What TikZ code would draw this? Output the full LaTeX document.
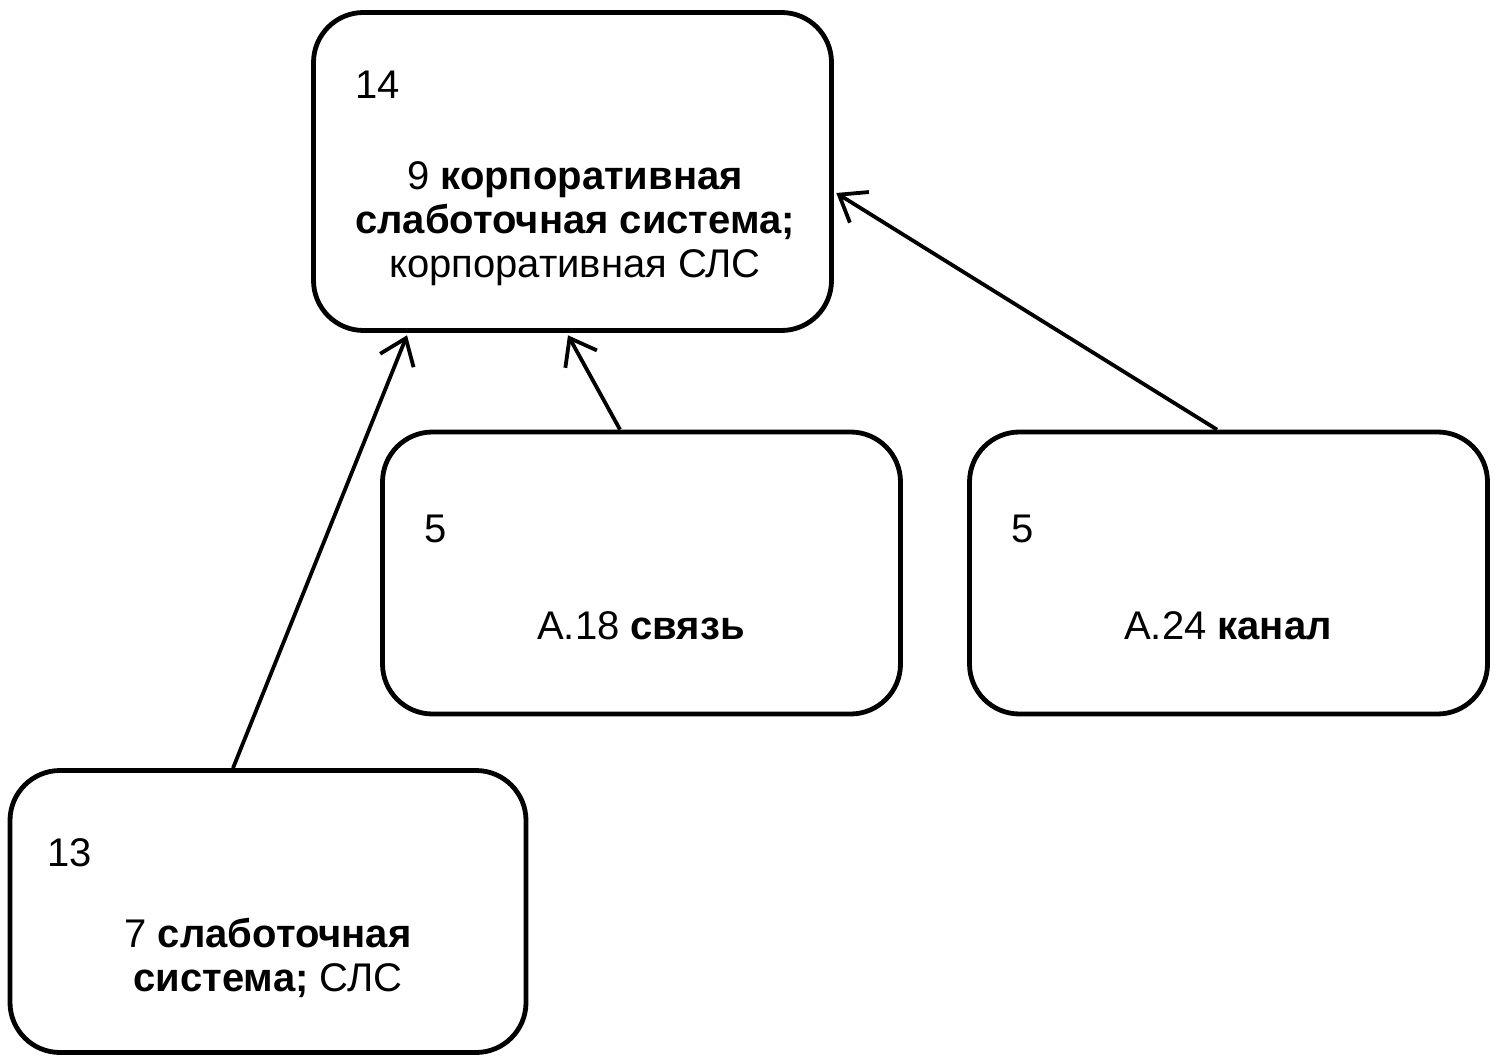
\documentclass[tikz,border=0pt]{standalone}
\usepackage{fontspec}
\setmainfont{Liberation Sans}
\usetikzlibrary{arrows.meta,calc}
\begin{document}
\begin{tikzpicture}[x=0.5pt,y=-0.5pt,
  box/.style={draw=black,line width=2.4pt,rounded corners=25pt,fill=white,inner sep=0pt},
  txt/.style={font=\fontsize{20pt}{22pt}\selectfont,inner sep=0pt,align=center},
  conn/.style={line width=1.9pt,-{Straight Barb[length=12pt,width=18pt]}}]
\useasboundingbox (0,0) rectangle (1497,1063);
\fill[white] (0,0) rectangle (1497,1063);
\node[box,minimum width=259pt,minimum height=159pt] (top) at (572.5,171.5) {};
\node[box,minimum width=259pt,minimum height=141pt] (a18) at (641.5,573) {};
\node[box,minimum width=259pt,minimum height=141pt] (a24) at (1228.5,573) {};
\node[box,minimum width=258pt,minimum height=141pt] (b13) at (268,911.5) {};
% texts
\node[txt,anchor=base west] (t14) at (355,99) {14};
\node[txt] (ttop) at (575,224) {9 \textbf{корпоративная}\\\textbf{слаботочная система;}\\корпоративная СЛС};
\node[txt,anchor=base west] (t5a) at (424,542) {5};
\node[txt,anchor=base] (ta18) at (641,639) {А.18 \textbf{связь}};
\node[txt,anchor=base west] (t5b) at (1011,542) {5};
\node[txt,anchor=base] (ta24) at (1228,639) {А.24 \textbf{канал}};
\node[txt,anchor=base west] (t13) at (47,866) {13};
\node[txt] (tb13) at (268,958) {7 \textbf{слаботочная}\\\textbf{система;} СЛС};
% connectors
\draw[conn] ([xshift=-17.5pt]b13.north) -- ([xshift=-82.75pt,yshift=-1.2pt]top.south);
\draw[conn] ([xshift=-10.75pt]a18.north) -- ([xshift=-2.25pt,yshift=-1.2pt]top.south);
\draw[conn] ([xshift=-5.75pt]a24.north) -- ([xshift=1.2pt,yshift=-10.75pt]top.east);
\end{tikzpicture}
\end{document}
